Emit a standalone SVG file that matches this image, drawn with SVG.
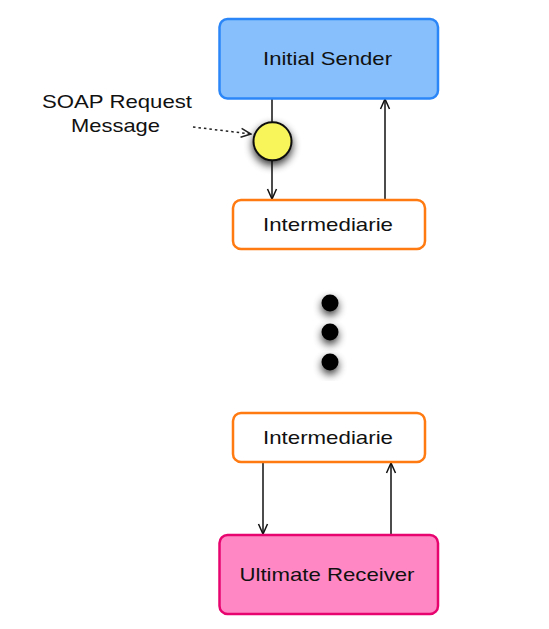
<svg xmlns="http://www.w3.org/2000/svg" width="549" height="629" viewBox="0 0 549 629">
<style>
.lbl{font-family:"Liberation Sans",Arial,sans-serif;font-size:19px;fill:#111;text-anchor:middle}
.edge{stroke:#111;stroke-width:1.5;fill:none}
.inter{fill:#fff;stroke:#ff7a10;stroke-width:2.5}
</style>
<defs>
<marker id="ah" markerUnits="userSpaceOnUse" markerWidth="12" markerHeight="12" viewBox="0 0 12 12" refX="11" refY="6" orient="auto">
<path d="M1,1.5 L11,6 L1,10.5" fill="none" stroke="#111" stroke-width="1.5"/>
</marker>
<marker id="ahd" markerUnits="userSpaceOnUse" markerWidth="12" markerHeight="12" viewBox="0 0 12 12" refX="11" refY="6" orient="auto">
<path d="M1,1.5 L11,6 L1,10.5" fill="none" stroke="#222" stroke-width="1.5"/>
</marker>
<filter id="sh" x="-60%" y="-60%" width="220%" height="220%">
<feGaussianBlur in="SourceAlpha" stdDeviation="4"/>
<feOffset dx="0" dy="4" result="b"/>
<feComponentTransfer><feFuncA type="linear" slope="0.8"/></feComponentTransfer>
<feMerge><feMergeNode/><feMergeNode in="SourceGraphic"/></feMerge>
</filter>
</defs>

<g id="connectors">
<line class="edge" x1="272" y1="99" x2="272" y2="122"/>
<line class="edge" x1="272" y1="160" x2="272" y2="199" marker-end="url(#ah)"/>
<line class="edge" x1="385" y1="199" x2="385" y2="99" marker-end="url(#ah)"/>
<line class="edge" x1="263" y1="463" x2="263" y2="534" marker-end="url(#ah)"/>
<line class="edge" x1="391" y1="534" x2="391" y2="463" marker-end="url(#ah)"/>
<line x1="193" y1="127" x2="251" y2="134" stroke="#222" stroke-width="1.5" stroke-dasharray="2.5,3" marker-end="url(#ahd)"/>
</g>

<g id="initial-sender">
<rect x="219.5" y="19" width="218.5" height="79.5" rx="8" fill="#86bffc" stroke="#2b87f7" stroke-width="2.5"/>
<text class="lbl" x="327.5" y="64.5" textLength="129" lengthAdjust="spacingAndGlyphs">Initial Sender</text>
</g>

<g id="soap-message">
<circle cx="272.5" cy="141.3" r="19" fill="#f7f55a" stroke="#111" stroke-width="2" filter="url(#sh)"/>
</g>

<g id="soap-label">
<text class="lbl" x="117" y="108" textLength="150" lengthAdjust="spacingAndGlyphs">SOAP Request</text>
<text class="lbl" x="115.5" y="132" textLength="89" lengthAdjust="spacingAndGlyphs">Message</text>
</g>

<g id="intermediarie-1">
<rect x="233" y="200" width="192" height="49" rx="8" class="inter"/>
<text class="lbl" x="328" y="231" textLength="130" lengthAdjust="spacingAndGlyphs">Intermediarie</text>
</g>

<g id="ellipsis">
<circle cx="330" cy="303" r="8.5" fill="#000" filter="url(#sh)"/>
<circle cx="330" cy="332" r="8.5" fill="#000" filter="url(#sh)"/>
<circle cx="330" cy="362" r="8.5" fill="#000" filter="url(#sh)"/>
</g>

<g id="intermediarie-2">
<rect x="233" y="413" width="192" height="49" rx="8" class="inter"/>
<text class="lbl" x="328" y="444" textLength="130" lengthAdjust="spacingAndGlyphs">Intermediarie</text>
</g>

<g id="ultimate-receiver">
<rect x="219.5" y="535" width="218.5" height="79" rx="8" fill="#ff88c4" stroke="#e8046f" stroke-width="2.5"/>
<text class="lbl" x="327" y="580.5" textLength="175" lengthAdjust="spacingAndGlyphs">Ultimate Receiver</text>
</g>
</svg>
